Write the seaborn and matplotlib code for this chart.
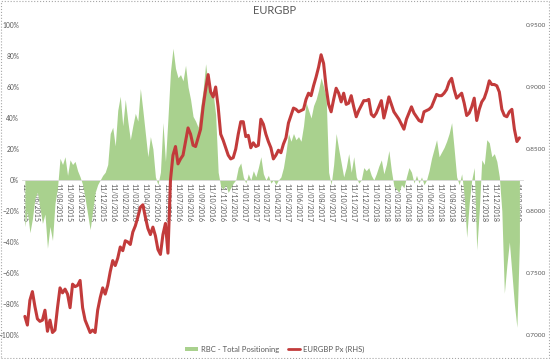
import pandas as pd
import matplotlib.pyplot as plt
import matplotlib.dates as mdates
from matplotlib.ticker import PercentFormatter, FormatStrFormatter
from matplotlib.patches import Patch, Rectangle
from matplotlib.lines import Line2D
import seaborn as sns

# weekly readings, first week starts 11/05/2015
eurgbp_px = [
    0.715, 0.708, 0.728, 0.735, 0.723, 0.713, 0.711, 0.712, 0.720, 0.703,
    0.712, 0.702, 0.704, 0.722, 0.738, 0.734, 0.737, 0.733, 0.722, 0.741,
    0.739, 0.740, 0.744, 0.722, 0.712, 0.707, 0.702, 0.704, 0.702, 0.720,
    0.730, 0.738, 0.733, 0.740, 0.751, 0.760, 0.756, 0.762, 0.771, 0.768,
    0.776, 0.775, 0.773, 0.783, 0.788, 0.795, 0.803, 0.805, 0.795, 0.786,
    0.781, 0.787, 0.780, 0.769, 0.765, 0.781, 0.790, 0.766, 0.825, 0.845,
    0.852, 0.838, 0.842, 0.845, 0.856, 0.867, 0.862, 0.853, 0.852, 0.859,
    0.866, 0.884, 0.898, 0.910, 0.896, 0.892, 0.900, 0.884, 0.862, 0.857,
    0.851, 0.845, 0.842, 0.843, 0.850, 0.862, 0.872, 0.872, 0.860, 0.861,
    0.851, 0.855, 0.852, 0.853, 0.874, 0.870, 0.862, 0.856, 0.851, 0.842,
    0.845, 0.849, 0.847, 0.854, 0.859, 0.871, 0.877, 0.883, 0.882, 0.880,
    0.881, 0.882, 0.890, 0.895, 0.893, 0.901, 0.908, 0.916, 0.926, 0.919,
    0.900, 0.886, 0.880, 0.890, 0.899, 0.895, 0.888, 0.895, 0.886, 0.887,
    0.893, 0.884, 0.876, 0.881, 0.885, 0.889, 0.889, 0.890, 0.878, 0.876,
    0.879, 0.884, 0.889, 0.875, 0.883, 0.892, 0.886, 0.880, 0.877, 0.874,
    0.870, 0.866, 0.874, 0.879, 0.884, 0.879, 0.876, 0.873, 0.872, 0.880,
    0.881, 0.882, 0.884, 0.889, 0.894, 0.893, 0.893, 0.895, 0.898, 0.904,
    0.907, 0.898, 0.891, 0.893, 0.895, 0.887, 0.877, 0.879, 0.884, 0.891,
    0.873, 0.882, 0.888, 0.891, 0.897, 0.905, 0.902, 0.902, 0.901, 0.896,
    0.882, 0.877, 0.876, 0.880, 0.882, 0.866, 0.856, 0.859,
]

rbc_positioning = [
    -30, -20, -34, -25, -12, -8, -18, -28, -22, -44,
    -30, -39, -15, -5, 14, 10, 15, 3, 13, 10,
    12, 6, 2, -3, -12, -22, -32, -20, -8, -3,
    0, 3, 5, 10, 30, 34, 22, 45, 54, 35,
    52, 38, 26, 35, 43, 38, 59, 45, 30, 15,
    28, 20, 2, -3, 5, 37, 12, 40, 70, 85,
    72, 66, 68, 64, 74, 60, 52, 41, 38, 34,
    47, 58, 75, 62, 56, 56, 42, 5, -4, -6,
    -3, -8, -5, -2, 0, 8, 11, 2, -2, 4,
    0, 6, 2, 8, 15, 4, 0, 3, -2, 0,
    -3, 0, 2, 8, 18, 30, 25, 30, 26, 28,
    25, 35, 50, 45, 40, 48, 52, 58, 66, 60,
    54, 5, -3, 10, 30, 20, 11, 2, 8, 17,
    5, 15, 2, -2, 0, 8, 6, 8, 3, 0,
    4, 9, 13, 4, 10, 19, 6, -4, -6, -8,
    -3, -5, 2, 8, 5, -2, 3, -2, 2, -3,
    0, 6, 14, 20, 26, 15, 18, 21, 25, 30,
    37, 20, 2, -3, 4, -10, -37, -15, 0, 8,
    -45, -20, 13, 10, 26, 24, 15, 17, 12, 2,
    -20, -73, -55, -40, -60, -80, -95, -40,
]

tick_dates = pd.date_range("2015-05-01", "2019-02-01", freq="MS") + pd.Timedelta(days=10)

df = pd.DataFrame({
    "Date": pd.date_range("2015-05-11", periods=len(eurgbp_px), freq="7D"),
    "Px": eurgbp_px,
    "Pos": [v / 100 for v in rbc_positioning],
})

green = "#a9d18e"
red = "#c23b3b"
grey = "#595959"

sns.set_theme(style="white")
plt.rcParams["font.family"] = ["Lato", "DejaVu Sans"]

fig = plt.figure(figsize=(5.5, 3.59), dpi=100)
ax = fig.add_axes([22 / 550, 24 / 359, 501 / 550, 310 / 359])
ax2 = ax.twinx()

ax.fill_between(df["Date"], 0, df["Pos"], color=green, linewidth=0)
sns.lineplot(data=df, x="Date", y="Px", ax=ax2, color=red, linewidth=2.2)

ax.set_ylim(-1, 1)
ax.set_yticks([i / 10 for i in range(-10, 11, 2)])
ax.yaxis.set_major_formatter(PercentFormatter(1.0, decimals=0))
ax2.set_ylim(0.70, 0.95)
ax2.set_yticks([0.70, 0.75, 0.80, 0.85, 0.90, 0.95])
ax2.yaxis.set_major_formatter(FormatStrFormatter("%.4f"))

ax.set_xlim(df["Date"].iloc[0] - pd.Timedelta(days=8), df["Date"].iloc[-1] + pd.Timedelta(days=10))
ax.set_xticks(tick_dates)
ax.xaxis.set_major_formatter(mdates.DateFormatter("%d/%m/%Y"))

ax.spines["bottom"].set_position(("data", 0))
for a in (ax, ax2):
    for s in ("top", "left", "right"):
        a.spines[s].set_visible(False)
ax2.spines["bottom"].set_visible(False)
ax.spines["bottom"].set_color("#d9d9d9")
ax.spines["bottom"].set_linewidth(0.6)

ax.tick_params(axis="x", length=0, pad=2, labelsize=5.0, labelcolor=grey, rotation=-90)
for lbl in ax.get_xticklabels():
    lbl.set_ha("center")
    lbl.set_va("top")
ax.tick_params(axis="y", length=0, pad=2, labelsize=4.8, labelcolor=grey)
ax2.tick_params(axis="y", length=0, pad=2, labelsize=4.6, labelcolor=grey)
ax.set_xlabel("")
ax.set_ylabel("")
ax2.set_xlabel("")
ax2.set_ylabel("")
ax.grid(False)
ax2.grid(False)

fig.text(0.5, 0.972, "EURGBP", ha="center", va="center", fontsize=8, color=grey)

handles = [Patch(facecolor=green, edgecolor="none"), Line2D([], [], color=red, linewidth=2.0)]
fig.legend(handles, ["RBC - Total Positioning", "EURGBP Px (RHS)"], loc="center",
           bbox_to_anchor=(0.5, 0.027), ncol=2, frameon=False, fontsize=5.5,
           labelcolor=grey, handlelength=1.6, handleheight=0.5, columnspacing=1.2,
           handletextpad=0.4)

fig.patches.append(Rectangle((0.002, 0.003), 0.996, 0.994, transform=fig.transFigure,
                             fill=False, edgecolor="#a6a6a6", linestyle=":", linewidth=0.8))

fig.savefig("out.png", dpi=100)
